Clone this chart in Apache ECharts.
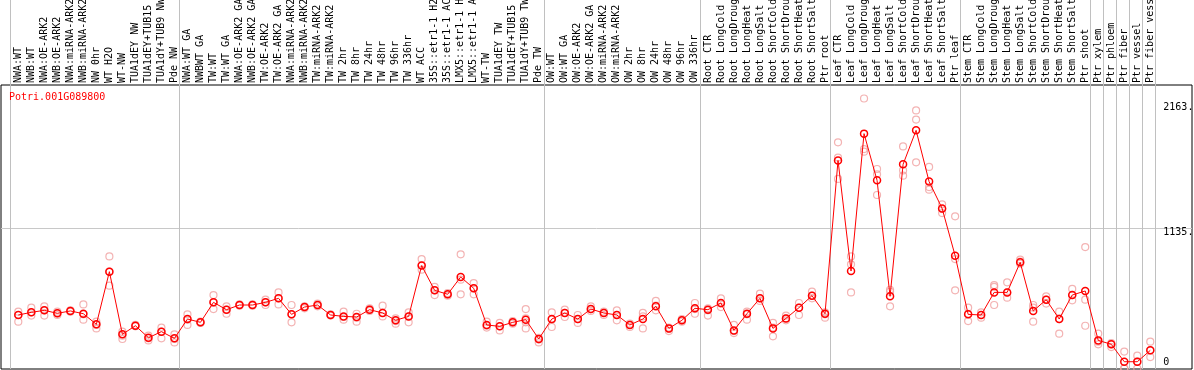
<!DOCTYPE html>
<html>
<head>
<meta charset="utf-8">
<script src="https://cdn.jsdelivr.net/npm/echarts@6/dist/echarts.min.js"></script>
<style>
  html, body { margin: 0; padding: 0; background: #fff; }
  #chart { width: 1194px; height: 370px; }
</style>
</head>
<body>
<div id="chart"></div>
<script>
const geneName = "Potri.001G089800";

const categories = [
  "NWA:WT", "NWB:WT", "NWA:OE-ARK2", "NWB:OE-ARK2", "NWA:miRNA-ARK2", "NWB:miRNA-ARK2",
  "NW 0hr", "WT H2O", "WT-NW", "TUA1dEY NW", "TUA1dEY+TUB15 NW", "TUA1dY+TUB9 NW", "Pde NW",
  "NWA:WT GA", "NWBWT GA", "TW:WT", "TW:WT GA", "NWA:OE-ARK2 GA", "NWB:OE-ARK2 GA",
  "TW:OE-ARK2", "TW:OE-ARK2 GA", "NWA:miRNA-ARK2 GA", "NWB:miRNA-ARK2 GA", "TW:miRNA-ARK2",
  "TW:miRNA-ARK2 GA", "TW 2hr", "TW 8hr", "TW 24hr", "TW 48hr", "TW 96hr", "TW 336hr",
  "WT ACC", "35S::etr1-1 H2O", "35S::etr1-1 ACC", "LMX5::etr1-1 H2O", "LMX5::etr1-1 ACC",
  "WT-TW", "TUA1dEY TW", "TUA1dEY+TUB15 TW", "TUA1dY+TUB9 TW", "Pde TW",
  "OW:WT", "OW:WT GA", "OW:OE-ARK2", "OW:OE-ARK2 GA", "OW:miRNA-ARK2", "OW:miRNA-ARK2 GA",
  "OW 2hr", "OW 8hr", "OW 24hr", "OW 48hr", "OW 96hr", "OW 336hr",
  "Root CTR", "Root LongCold", "Root LongDrought", "Root LongHeat", "Root LongSalt",
  "Root ShortCold", "Root ShortDrought", "Root ShortHeat", "Root ShortSalt", "Ptr root",
  "Leaf CTR", "Leaf LongCold", "Leaf LongDrought", "Leaf LongHeat", "Leaf LongSalt",
  "Leaf ShortCold", "Leaf ShortDrought", "Leaf ShortHeat", "Leaf ShortSalt", "Ptr leaf",
  "Stem CTR", "Stem LongCold", "Stem LongDrought", "Stem LongHeat", "Stem LongSalt",
  "Stem ShortCold", "Stem ShortDrought", "Stem ShortHeat", "Stem ShortSalt", "Ptr shoot",
  "Ptr xylem", "Ptr phloem", "Ptr fiber", "Ptr vessel", "Ptr fiber vessel"
];

// category boundaries where the grey separators sit
const groupBreaks = [0, 13, 41, 53, 63, 73, 83, 84, 85, 86, 87, 88];

// mean per sample (red line)
const meanValues = [
  449, 470, 486, 462, 481, 459, 375, 792, 296, 364,
  269, 317, 264, 417, 391, 549, 491, 528, 528, 549,
  581, 454, 512, 528, 449, 438, 433, 491, 465, 407,
  438, 840, 644, 613, 750, 660, 370, 359, 391, 412,
  259, 417, 465, 417, 496, 465, 449, 370, 417, 518,
  343, 407, 502, 491, 544, 327, 459, 581, 343, 422,
  507, 602, 459, 1673, 797, 1885, 1515, 597, 1642, 1911,
  1505, 1293, 919, 454, 449, 628, 628, 866, 481, 570,
  417, 607, 639, 248, 217, 79, 79, 169
];

// replicates (pink circles)
const repA = [
  475, 507, 518, 475, 486, 533, 396, 913, 317, 370,
  285, 349, 296, 454, 396, 607, 518, 533, 533, 570,
  628, 528, 518, 539, 454, 475, 459, 502, 523, 422,
  470, 892, 671, 623, 929, 702, 396, 386, 401, 496,
  269, 470, 491, 449, 518, 475, 486, 380, 465, 560,
  349, 417, 544, 502, 581, 370, 475, 618, 386, 444,
  544, 634, 470, 1816, 913, 2163, 1605, 649, 1784, 2069,
  1621, 1325, 1230, 507, 470, 686, 708, 887, 528, 597,
  475, 655, 987, 301, 227, 159, 127, 238
];
const repB = [
  449, 470, 486, 462, 481, 454, 370, 792, 285, 364,
  264, 317, 259, 412, 391, 549, 491, 528, 528, 549,
  581, 454, 512, 528, 449, 433, 428, 491, 465, 401,
  438, 840, 644, 613, 729, 660, 364, 359, 391, 422,
  254, 412, 465, 417, 496, 465, 449, 370, 438, 523,
  338, 407, 496, 486, 539, 322, 454, 581, 349, 422,
  507, 602, 454, 1695, 850, 1763, 1563, 634, 1594, 1996,
  1462, 1288, 892, 459, 449, 671, 628, 871, 507, 570,
  417, 607, 570, 238, 217, 27, 79, 169
];
const repC = [
  396, 444, 444, 449, 475, 412, 343, 681, 259, 359,
  248, 264, 232, 370, 386, 496, 459, 523, 523, 528,
  533, 391, 502, 518, 444, 412, 396, 481, 438, 380,
  391, 808, 607, 602, 613, 613, 349, 327, 380, 391,
  232, 354, 433, 386, 481, 449, 407, 354, 343, 486,
  322, 396, 459, 444, 512, 306, 412, 560, 280, 407,
  449, 581, 428, 1526, 628, 1742, 1399, 518, 1552, 1658,
  1441, 1256, 644, 401, 428, 528, 586, 855, 396, 539,
  301, 565, 364, 217, 195, 27, 27, 116
];
// fourth replicate only where one exists
const repD = categories.map((c) => (c === "TUA1dY+TUB9 TW" ? 343 : null));

const yTicks = [0, 1135, 2163];
const yMax = 2270;

const monoFont = "DejaVu Sans Mono";

const repPoints = [];
[repA, repB, repC, repD].forEach((arr) => {
  arr.forEach((v, i) => {
    if (v != null) repPoints.push([i, v]);
  });
});

const chart = echarts.init(document.getElementById("chart"), null, { renderer: "canvas" });

const sepColors = Array.from({ length: categories.length + 1 }, (_, i) =>
  groupBreaks.includes(i) ? "#c0c0c0" : "rgba(0,0,0,0)"
);

const option = {
  animation: false,
  backgroundColor: "#fff",
  title: {
    text: geneName,
    left: 9,
    top: 92,
    padding: 0,
    textStyle: { color: "#ff0000", fontSize: 10, fontWeight: "normal", fontFamily: monoFont },
  },
  grid: [
    // data
    { left: 11.8, right: 37.2, top: 85, height: 286.7, outerBoundsMode: "none" },
    // group separators, running up through the label area
    { left: 10.3, right: 38.7, top: 0, height: 369, outerBoundsMode: "none" },
    // frame
    {
      left: 1, right: 2, top: 85, height: 284, outerBoundsMode: "none",
      show: true, borderColor: "#000", borderWidth: 1, backgroundColor: "transparent",
    },
    // middle line
    { left: 1, right: 2, top: 85, height: 286.7, outerBoundsMode: "none" },
  ],
  xAxis: [
    {
      type: "category",
      gridIndex: 0,
      data: categories,
      position: "top",
      axisLine: { show: false },
      axisTick: { show: false },
      splitLine: { show: false },
      axisLabel: { rotate: 90, interval: 0, margin: 2, color: "#000", fontSize: 10, fontFamily: monoFont },
    },
    {
      type: "value",
      gridIndex: 1,
      min: 0,
      max: categories.length,
      interval: 1,
      axisLine: { show: false },
      axisTick: { show: false },
      axisLabel: { show: false },
      splitLine: { show: true, lineStyle: { color: sepColors, width: 1 } },
    },
    { type: "value", gridIndex: 2, min: 0, max: 1, show: false },
    { type: "value", gridIndex: 3, min: 0, max: 1, show: false },
  ],
  yAxis: [
    {
      type: "value",
      gridIndex: 0,
      min: 0,
      max: yMax,
      position: "right",
      axisLine: { show: false },
      axisTick: { show: false },
      splitLine: { show: false },
      axisLabel: {
        customValues: yTicks,
        margin: 6.5,
        color: "#000",
        fontSize: 10,
        fontFamily: monoFont,
        formatter: (v) => {
          if (v === 0) return "{z|0}";
          if (v === 1135) return "{m|1135.}";
          return "{t|" + v + ".}";
        },
        rich: {
          t: { padding: [18, 0, 0, 0], fontSize: 10, fontFamily: monoFont, color: "#000" },
          m: { padding: [8, 0, 0, 0], fontSize: 10, fontFamily: monoFont, color: "#000" },
          z: { padding: [0, 0, 19, 0], fontSize: 10, fontFamily: monoFont, color: "#000" },
        },
      },
    },
    { type: "value", gridIndex: 1, min: 0, max: 1, show: false },
    { type: "value", gridIndex: 2, min: 0, max: 1, show: false },
    {
      type: "value",
      gridIndex: 3,
      min: 0,
      max: yMax,
      interval: yMax / 2,
      axisLine: { show: false },
      axisTick: { show: false },
      axisLabel: { show: false },
      splitLine: { show: true, lineStyle: { color: ["rgba(0,0,0,0)", "#c8c8c8", "rgba(0,0,0,0)"], width: 1 } },
    },
  ],
  series: [
    {
      name: "replicates",
      type: "scatter",
      xAxisIndex: 0,
      yAxisIndex: 0,
      data: repPoints,
      symbol: "circle",
      symbolSize: 7,
      itemStyle: { color: "rgba(0,0,0,0)", borderColor: "#f0a0a0", borderWidth: 1.2 },
      z: 3,
      silent: true,
    },
    {
      name: "mean",
      type: "line",
      xAxisIndex: 0,
      yAxisIndex: 0,
      data: meanValues,
      symbol: "circle",
      symbolSize: 7,
      showSymbol: true,
      lineStyle: { color: "#ff0000", width: 1 },
      itemStyle: { color: "rgba(0,0,0,0)", borderColor: "#ff0000", borderWidth: 1.5 },
      z: 4,
      silent: true,
    },
  ],
};

chart.setOption(option);
</script>
</body>
</html>
